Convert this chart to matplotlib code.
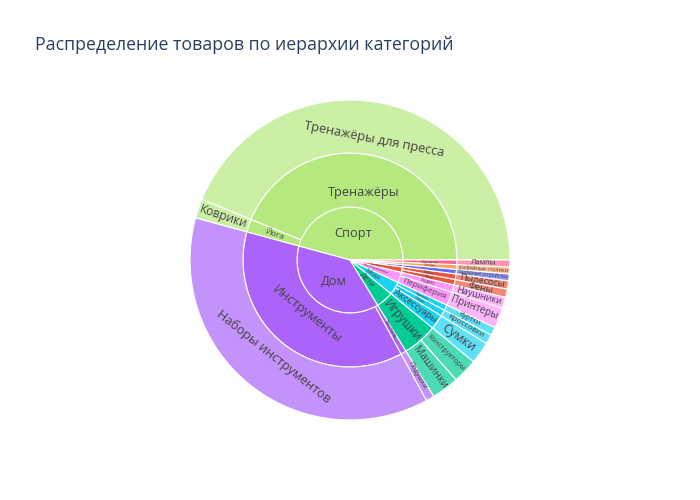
import numpy as np
import matplotlib
matplotlib.use('Agg')
import matplotlib.pyplot as plt
from matplotlib.patches import Wedge
from matplotlib.font_manager import FontProperties
from matplotlib.colors import to_rgb

plt.rcParams['font.family'] = ['Open Sans', 'DejaVu Sans']

# иерархия: категория -> подкатегория -> товар, число товаров
top_cats = ['Спорт', 'Спорт', 'Дом', 'Дом', 'Дети', 'Дети', 'Мода', 'Мода', 'Мода',
            'Электроника', 'Электроника', 'Техника', 'Техника', 'Гаджеты', 'Мебель', 'Декор']
sub_cats = ['Тренажёры', 'Йога', 'Инструменты', 'Текстиль', 'Игрушки', 'Игрушки',
            'Аксессуары', 'Обувь', 'Одежда', 'Периферия', 'Аудио', 'Уход', 'Уборка',
            'Зарядки', 'Столы', 'Освещение']
items = ['Тренажёры для пресса', 'Коврики', 'Наборы инструментов', 'Подушки', 'Машинки',
         'Конструкторы', 'Сумки', 'Кроссовки', 'Куртки', 'Принтеры', 'Наушники', 'Фены',
         'Пылесосы', 'Зарядные устройства', 'Кофейные столики', 'Лампы']
counts = [316, 14, 268, 6, 20, 18, 16, 7, 6, 15, 8, 6, 6, 5, 5, 5]

cat_colors = {'Спорт': '#B6E880', 'Дом': '#AB63FA', 'Дети': '#00CC96', 'Мода': '#19D3F3',
              'Электроника': '#FF97FF', 'Техника': '#EF553B', 'Гаджеты': '#636EFA',
              'Мебель': '#FFA15A', 'Декор': '#FF6692'}

fig = plt.figure(figsize=(7, 5), dpi=100)
ax = fig.add_axes([0, 0, 1, 1])
ax.set_xlim(0, 700)
ax.set_ylim(0, 500)
ax.axis('off')

fig.text(35 / 700, 1 - 45 / 500, 'Распределение товаров по иерархии категорий',
         fontsize=17.8 * 0.72, color='#2a3f5f', va='center', ha='left')

cx, cy = 350, 240
radii = [0, 53, 107, 160]
maxpx = 12.7
renderer = fig.canvas.get_renderer()
prop_max = FontProperties(family=['Open Sans', 'DejaVu Sans'], size=maxpx * 0.72)


def lighten(c, f=0.3):
    r = np.array(to_rgb(c))
    return tuple(r + (1 - r) * f)


def groups(keys):
    out = []
    start = 0
    for i in range(1, len(keys) + 1):
        if i == len(keys) or keys[i] != keys[start]:
            out.append((keys[start], start, i))
            start = i
    return out


cum = np.concatenate([[0], np.cumsum(counts)]) / sum(counts) * 360
levels = [list(zip(top_cats)), list(zip(top_cats, sub_cats)), list(zip(top_cats, sub_cats, items))]

for lev, keys in enumerate(levels):
    r0, r1 = radii[lev], radii[lev + 1]
    thick = r1 - r0
    for key, s, e in groups(keys):
        th1, th2 = cum[s], cum[e]
        col = cat_colors[key[0]]
        if lev == 2:
            col = lighten(col)
        ax.add_patch(Wedge((cx, cy), r1, th1, th2, width=None if lev == 0 else thick,
                           facecolor=col, edgecolor='white', linewidth=0.8))

        label = key[-1]
        span = th2 - th1
        mid = np.deg2rad((th1 + th2) / 2)
        tw, th, _ = renderer.get_text_width_height_descent(label, prop_max, ismath=False)
        th = th * 0.9
        rmid = (r0 + r1) / 2

        if lev == 0 and span > 90:
            orient, size, rr = 'h', maxpx, r1 * 0.5
        else:
            srad = np.deg2rad(min(span, 180))
            aw = 2 * rmid * np.sin(srad / 2) * 0.9
            st = maxpx * min(1, aw / tw, thick * 0.8 / th)
            base = rmid * 0.7 if lev == 0 else r0 + 0.1 * thick
            sr = maxpx * min(1, thick * 0.95 / tw, base * np.deg2rad(span) / th)
            if st >= sr:
                orient, size, rr = 't', st, rmid - 0.2 * thick
            else:
                orient, size, rr = 'r', sr, rmid
        if size < 3:
            continue

        ang = np.rad2deg(mid)
        if orient == 'h':
            rot = 0
        elif orient == 't':
            rot = ang - 90
            if rot > 90:
                rot -= 180
            elif rot < -90:
                rot += 180
            if lev < 2 and abs(rot) < 15:
                rot = 0
        else:
            rot = ang
            if 90 < rot < 270:
                rot -= 180
            elif rot >= 270:
                rot -= 360
        ax.text(cx + rr * np.cos(mid), cy + rr * np.sin(mid), label, rotation=rot,
                rotation_mode='anchor', ha='center', va='center',
                fontsize=size * 0.72, color='#444444')

fig.savefig('out.png', dpi=100, facecolor='white')
